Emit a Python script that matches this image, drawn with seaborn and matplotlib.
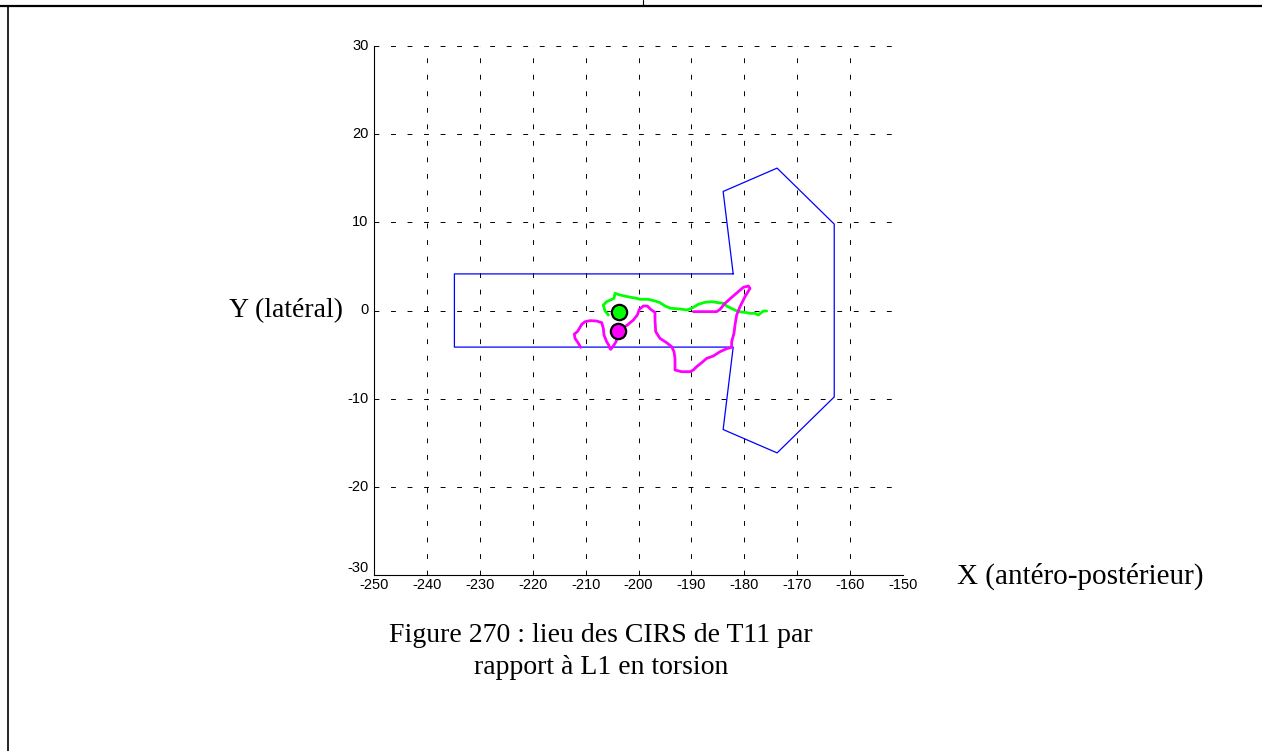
import numpy as np
import pandas as pd
import matplotlib
matplotlib.use("Agg")
import matplotlib.pyplot as plt
import seaborn as sns

# contour (zone) en bleu
zone_x = [-182.1, -234.8, -234.8, -182.1, -184.0, -173.8, -163.0,
          -163.0, -173.8, -184.0, -182.1]
zone_y = [4.15, 4.15, -4.15, -4.15, -13.5, -16.15, -9.8,
          9.8, 16.15, 13.5, 4.15]

# trace verte
vert_x = [-205.70, -206.33, -206.65, -206.02, -204.63, -204.44, -203.50,
          -202.11, -200.35, -199.72, -198.14, -196.88, -195.94, -194.99,
          -193.92, -192.15, -190.89, -189.95, -188.69, -187.43, -186.17,
          -184.91, -183.96, -183.33, -182.07, -181.13, -179.87, -178.92,
          -177.98, -177.35, -176.72, -176.40, -175.77]
vert_y = [-0.51, -0.04, 0.62, 1.00, 1.38, 1.95, 1.76, 1.57, 1.38, 1.27,
          1.27, 1.08, 0.89, 0.51, 0.25, 0.17, 0.06, 0.25, 0.70, 0.93, 1.00,
          0.89, 0.81, 0.51, 0.13, -0.13, -0.21, -0.32, -0.32, -0.51, -0.21,
          -0.06, -0.06]

# trace magenta
mag_x = [-210.93, -211.18, -211.56, -212.00, -212.13, -211.56, -211.06,
         -210.74, -210.11, -209.17, -207.91, -206.96, -206.65, -206.52,
         -206.02, -205.64, -205.51, -205.26, -204.76, -204.25, -204.00,
         -203.81, -202.11, -200.98, -200.22, -199.84, -199.09, -198.33,
         -197.70, -196.88, -196.88, -196.75, -195.94, -194.68, -193.73,
         -193.29, -193.10, -193.10, -191.84, -190.26, -189.63, -189.00,
         -188.06, -187.11, -185.85, -184.59, -183.33, -182.39, -182.39,
         -181.95, -181.76, -181.44, -180.81, -179.87, -178.92, -179.24,
         -180.18, -181.13, -182.39, -183.65, -184.59, -185.22, -189.63]
mag_y = [-4.18, -3.91, -3.54, -3.16, -2.67, -2.40, -1.91, -1.57, -1.27,
         -1.15, -1.19, -1.38, -2.02, -2.78, -3.54, -3.91, -4.18, -4.41,
         -4.03, -3.54, -2.97, -2.29, -1.65, -1.08, -0.51, 0.13, 0.51, 0.51,
         0.13, -0.21, -1.08, -2.40, -3.16, -3.65, -4.10, -4.67, -5.43,
         -6.75, -6.94, -6.94, -6.75, -6.37, -5.92, -5.43, -5.16, -4.67,
         -4.33, -4.18, -3.54, -2.59, -1.65, -0.51, 0.43, 1.57, 2.51, 2.78,
         2.63, 2.14, 1.49, 0.81, 0.13, -0.13, -0.13]

# CIRS moyens
pts_x = [-203.7, -203.8]
pts_y = [-0.2, -2.3]
pts_col = ["#00ff00", "#ff00ff"]

x_ticks = list(range(-250, -149, 10))
y_ticks = list(range(-30, 31, 10))

sns.set_style("white")
plt.rcParams["font.family"] = ["Liberation Sans", "DejaVu Sans"]
plt.rcParams["axes.unicode_minus"] = False
plt.rcParams["text.color"] = "black"

fig = plt.figure(figsize=(12.62, 7.51), dpi=100)
ax = fig.add_axes([374 / 1262, 1 - 575 / 751, 529 / 1262, 529 / 751])

df_zone = pd.DataFrame({"x": zone_x, "y": zone_y})
df_vert = pd.DataFrame({"x": vert_x, "y": vert_y})
df_mag = pd.DataFrame({"x": mag_x, "y": mag_y})

sns.lineplot(data=df_zone, x="x", y="y", sort=False, estimator=None,
             color="#0000ff", lw=0.9, ax=ax)
sns.lineplot(data=df_vert, x="x", y="y", sort=False, estimator=None,
             color="#00ff00", lw=2.0, ax=ax)
sns.lineplot(data=df_mag, x="x", y="y", sort=False, estimator=None,
             color="#ff00ff", lw=2.0, ax=ax)
for px, py, c in zip(pts_x, pts_y, pts_col):
    ax.plot(px, py, "o", ms=11, mfc=c, mec="black", mew=1.6, zorder=5)

ax.set_xlim(-250, -150)
ax.set_ylim(-30, 30)
ax.set_xticks(x_ticks)
ax.set_yticks(y_ticks)
ax.tick_params(direction="in", length=4, width=0.8, labelsize=10.5,
               colors="black")
ax.tick_params(axis="x", pad=2)
ax.tick_params(axis="y", pad=4)
for lab in ax.get_yticklabels():
    lab.set_va("bottom" if lab.get_text() == "-30" else "center")
ax.grid(True, color="black", lw=0.7, linestyle=(0, (5, 12)))
ax.set_axisbelow(True)
for side in ["top", "right"]:
    ax.spines[side].set_visible(False)
for side in ["left", "bottom"]:
    ax.spines[side].set_color("black")
    ax.spines[side].set_linewidth(0.8)
ax.set_xlabel("")
ax.set_ylabel("")

# textes de la page
serif = ["Liberation Serif", "DejaVu Serif"]
fs = 20
fig.text(286 / 1262, 1 - 311 / 751, "Y (latéral)", family=serif,
         fontsize=fs, ha="center", va="center", color="black")
fig.text(1080 / 1262, 1 - 576 / 751, "X (antéro-postérieur)", family=serif,
         fontsize=21, ha="center", va="center", color="black")
fig.text(601 / 1262, 1 - 636 / 751, "Figure 270 : lieu des CIRS de T11 par",
         family=serif, fontsize=fs, ha="center", va="center", color="black")
fig.text(601 / 1262, 1 - 668 / 751, "rapport à L1 en torsion",
         family=serif, fontsize=fs, ha="center", va="center", color="black")

# bordures du tableau
fig.add_artist(plt.Line2D([0, 1], [1 - 6.3 / 751] * 2, color="black", lw=1.6))
fig.add_artist(plt.Line2D([643 / 1262] * 2, [1, 1 - 6 / 751], color="black", lw=0.8))
fig.add_artist(plt.Line2D([8 / 1262] * 2, [1 - 6 / 751, 0], color="black", lw=1.2))

fig.savefig("out.png", dpi=100)
